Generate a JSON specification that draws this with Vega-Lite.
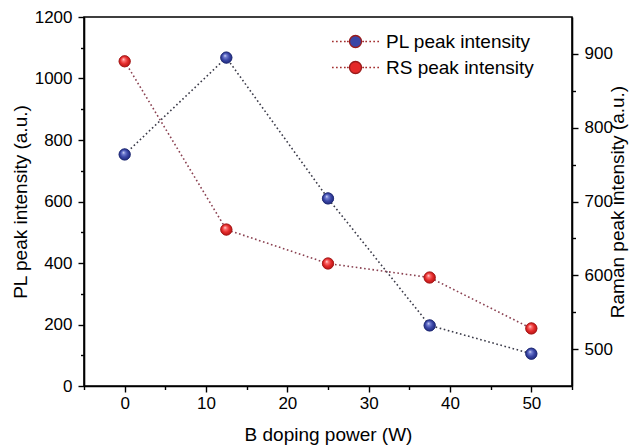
{
  "$schema": "https://vega.github.io/schema/vega-lite/v6.json",
  "width": 488,
  "height": 369,
  "autosize": {"type": "none"},
  "padding": {"left": 84, "top": 17, "right": 64, "bottom": 60},
  "config": {
    "font": "Liberation Sans",
    "view": {"stroke": "black", "strokeWidth": 1.6},
    "axis": {
      "grid": false,
      "domainColor": "black",
      "domainWidth": 1.6,
      "tickColor": "black",
      "tickWidth": 1.4,
      "labelColor": "black",
      "titleColor": "black",
      "labelFont": "Liberation Sans",
      "titleFont": "Liberation Sans",
      "labelFontSize": 17,
      "titleFontSize": 19,
      "titleFontWeight": "normal"
    }
  },
  "datasets": {
    "d": [
      {"power": 0, "series": "PL peak intensity", "value": 753},
      {"power": 12.5, "series": "PL peak intensity", "value": 1068},
      {"power": 25, "series": "PL peak intensity", "value": 610},
      {"power": 37.5, "series": "PL peak intensity", "value": 197},
      {"power": 50, "series": "PL peak intensity", "value": 105},
      {"power": 0, "series": "RS peak intensity", "value": 890},
      {"power": 12.5, "series": "RS peak intensity", "value": 662},
      {"power": 25, "series": "RS peak intensity", "value": 616},
      {"power": 37.5, "series": "RS peak intensity", "value": 597},
      {"power": 50, "series": "RS peak intensity", "value": 528}
    ]
  },
  "data": {"name": "d"},
  "encoding": {
    "x": {
      "field": "power",
      "type": "quantitative",
      "scale": {"domain": [-5, 55], "nice": false, "zero": false},
      "axis": {
        "title": "B doping power (W)",
        "values": [-5, 0, 5, 10, 15, 20, 25, 30, 35, 40, 45, 50, 55],
        "format": "d",
        "labelExpr": "datum.value % 10 === 0 && datum.value >= 0 && datum.value <= 50 ? datum.label : ''",
        "tickSize": {"condition": {"test": "datum.value % 10 === 0", "value": 6}, "value": 3.5},
        "labelPadding": 3,
        "titlePadding": 14,
        "labelFlush": false
      }
    }
  },
  "layer": [
    {
      "transform": [{"filter": "datum.series === 'PL peak intensity'"}],
      "encoding": {
        "y": {
          "field": "value",
          "type": "quantitative",
          "scale": {"domain": [0, 1200], "nice": false},
          "axis": {
            "orient": "left",
            "title": "PL peak intensity (a.u.)",
            "values": [0, 100, 200, 300, 400, 500, 600, 700, 800, 900, 1000, 1100, 1200],
            "format": "d",
            "labelExpr": "datum.value % 200 === 0 ? datum.label : ''",
            "tickSize": {"condition": {"test": "datum.value % 200 === 0", "value": 6}, "value": 3.5},
            "labelPadding": 6,
            "titlePadding": 4,
            "labelFlush": false
          }
        }
      },
      "layer": [
        {
          "mark": {"type": "line", "color": "#3a3a48", "strokeDash": [1.6, 2.6], "strokeWidth": 1.6}
        },
        {
          "mark": {"type": "point", "filled": true, "size": 125, "stroke": "#1f2a70", "strokeWidth": 0.8, "opacity": 1},
          "encoding": {
            "color": {
              "field": "series",
              "type": "nominal",
              "scale": {"domain": ["PL peak intensity", "RS peak intensity"], "range": ["#3a46a6", "#e42a2a"]},
              "legend": {
                "orient": "none",
                "legendX": 262,
                "legendY": 15,
                "title": null,
                "padding": 0,
                "symbolType": "M-3.9,0H-3.65M-3.23,0H-2.98M-2.57,0H-2.32M-1.9,0H-1.65M-1.4,0H-1.15M1.15,0H1.4M1.65,0H1.9M2.32,0H2.57M2.98,0H3.23M3.65,0H3.9M-1,0A1,1,0,1,0,1,0A1,1,0,1,0,-1,0Z",
                "symbolSize": 144,
                "symbolStrokeColor": "#4a4a58",
                "symbolStrokeWidth": 1.3,
                "symbolOpacity": 1,
                "labelFontSize": 19,
                "labelFont": "Liberation Sans",
                "labelColor": "black",
                "labelOffset": 21,
                "rowPadding": 6
              }
            }
          }
        },
        {
          "mark": {
            "type": "point",
            "size": 125,
            "strokeWidth": 0.6,
            "stroke": "#1f2a70",
            "opacity": 1,
            "fill": {
              "gradient": "radial",
              "x1": 0.38, "y1": 0.32, "r1": 0,
              "x2": 0.5, "y2": 0.5, "r2": 0.6,
              "stops": [
                {"offset": 0, "color": "#ffffff"},
                {"offset": 0.18, "color": "#7c88d8"},
                {"offset": 0.55, "color": "#3a46a6"},
                {"offset": 1, "color": "#1a2272"}
              ]
            }
          }
        }
      ]
    },
    {
      "transform": [{"filter": "datum.series === 'RS peak intensity'"}],
      "encoding": {
        "y": {
          "field": "value",
          "type": "quantitative",
          "scale": {"domain": [450, 950], "nice": false, "zero": false},
          "axis": {
            "orient": "right",
            "title": "Raman peak intensity (a.u.)",
            "titleAngle": 270,
            "titleBaseline": "top",
            "values": [500, 550, 600, 650, 700, 750, 800, 850, 900],
            "format": "d",
            "labelExpr": "datum.value % 100 === 0 ? datum.label : ''",
            "tickSize": {"condition": {"test": "datum.value % 100 === 0", "value": 6}, "value": 3.5},
            "labelPadding": 6,
            "titlePadding": -4,
            "labelFlush": false
          }
        }
      },
      "layer": [
        {
          "mark": {"type": "line", "color": "#8a4050", "strokeDash": [1.6, 2.6], "strokeWidth": 1.6}
        },
        {
          "mark": {"type": "point", "filled": true, "size": 125, "stroke": "#9a1a1a", "strokeWidth": 0.8, "opacity": 1},
          "encoding": {
            "color": {"field": "series", "type": "nominal"}
          }
        },
        {
          "mark": {
            "type": "point",
            "size": 125,
            "strokeWidth": 0.6,
            "stroke": "#a01818",
            "opacity": 1,
            "fill": {
              "gradient": "radial",
              "x1": 0.38, "y1": 0.32, "r1": 0,
              "x2": 0.5, "y2": 0.5, "r2": 0.6,
              "stops": [
                {"offset": 0, "color": "#ffffff"},
                {"offset": 0.18, "color": "#ff7a7a"},
                {"offset": 0.55, "color": "#e42a2a"},
                {"offset": 1, "color": "#a81010"}
              ]
            }
          }
        }
      ]
    }
  ],
  "resolve": {"scale": {"y": "independent"}}
}
